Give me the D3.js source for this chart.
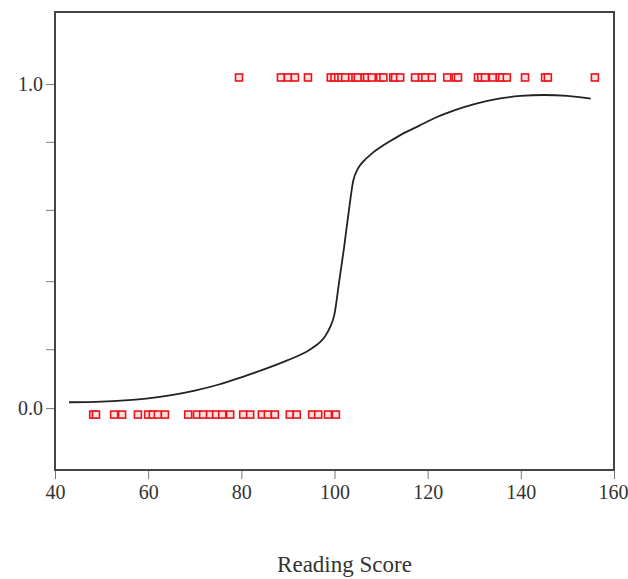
<!DOCTYPE html>
<html>
<head>
<meta charset="utf-8">
<script src="https://cdn.jsdelivr.net/npm/d3@7"></script>
<style>
  body { margin: 0; background: #fff; }
  svg text { font-family: "Liberation Serif", "DejaVu Serif", serif; fill: #333; }
</style>
</head>
<body>
<svg id="chart"></svg>
<script>
// observed outcomes (reading score) for the two groups
const scoresPass = [79.5, 88.5, 90.0, 91.5, 94.3, 99.2, 100.0, 100.8, 101.5, 102.3, 103.8, 104.5,
  105.0, 106.5, 107.0, 108.0, 109.8, 110.5, 112.6, 113.0, 114.1, 117.3, 118.8, 119.5, 120.9,
  124.2, 126.0, 126.5, 130.8, 131.5, 132.3, 134.0, 135.5, 136.0, 137.0, 140.9, 145.2, 145.8, 155.9];
const scoresFail = [48.2, 48.8, 52.7, 54.4, 57.8, 60.0, 61.0, 62.1, 63.6, 68.6, 70.5, 71.8,
  73.3, 74.6, 75.9, 77.6, 80.4, 81.9, 84.4, 85.7, 87.2, 90.4, 91.9, 95.2, 96.5, 98.6, 100.3];

// fitted curve
const curveX = [43, 50, 55, 60, 65, 70, 75, 80, 85, 90, 92, 94, 96, 97, 98, 99, 100, 101, 102,
  103, 104, 105, 106, 108, 110, 112, 115, 118, 122, 126, 130, 135, 140, 145, 150, 155];
const curveY = [0.018, 0.02, 0.024, 0.03, 0.04, 0.054, 0.072, 0.095, 0.12, 0.148, 0.16, 0.174,
  0.193, 0.205, 0.222, 0.248, 0.29, 0.39, 0.49, 0.6, 0.7, 0.738, 0.758, 0.785, 0.806, 0.824,
  0.849, 0.87, 0.898, 0.92, 0.938, 0.954, 0.963, 0.966, 0.963, 0.955];

const xTicks = [40, 60, 80, 100, 120, 140, 160];
const yTicks = [0, 1];
const yMinorTicks = [0.18, 0.39, 0.61, 0.82];
const pointOffset = 0.02; // points drawn slightly off the 0 / 1 lines

const width = 628, height = 579;
const margin = { top: 12, right: 14, bottom: 109, left: 55 };
const innerWidth = width - margin.left - margin.right;
const innerHeight = height - margin.top - margin.bottom;
const fontFamily = '"Liberation Serif", "DejaVu Serif", serif';

const svg = d3.select("#chart").attr("width", width).attr("height", height);
const g = svg.append("g").attr("transform", `translate(${margin.left},${margin.top})`);

const x = d3.scaleLinear().domain([40, 160]).range([0, innerWidth]);
const y = d3.scaleLinear().domain([-0.191, 1.222]).range([innerHeight, 0]);

// x axis
const xAxis = g.append("g")
  .attr("transform", `translate(0,${innerHeight})`)
  .call(d3.axisBottom(x).tickValues(xTicks).tickSize(9).tickPadding(6))
  .attr("font-family", fontFamily)
  .attr("font-size", 20);
xAxis.select(".domain").remove();
xAxis.selectAll("line").attr("stroke", "#777");
xAxis.selectAll("text").attr("fill", "#333");
// last label sits against the right edge
xAxis.selectAll("text").filter(d => d === 160).attr("text-anchor", "end").attr("dx", 14);

// y axis
const yAxis = g.append("g")
  .call(d3.axisLeft(y).tickValues(yTicks).tickFormat(d3.format(".1f")).tickSize(9).tickPadding(3))
  .attr("font-family", fontFamily)
  .attr("font-size", 20);
yAxis.select(".domain").remove();
yAxis.selectAll("line").attr("stroke", "#777");
yAxis.selectAll("text").attr("fill", "#333");

g.append("g")
  .selectAll("line")
  .data(yMinorTicks)
  .enter()
  .append("line")
  .attr("x1", -9)
  .attr("x2", 0)
  .attr("y1", d => y(d))
  .attr("y2", d => y(d))
  .attr("stroke", "#777");

// frame
g.append("rect")
  .attr("width", innerWidth)
  .attr("height", innerHeight)
  .attr("fill", "none")
  .attr("stroke", "#444")
  .attr("stroke-width", 2);

// fitted line
const line = d3.line()
  .x(d => x(d))
  .y((d, i) => y(curveY[i]))
  .curve(d3.curveMonotoneX);

g.append("path")
  .datum(curveX)
  .attr("fill", "none")
  .attr("stroke", "#222")
  .attr("stroke-width", 1.8)
  .attr("d", line);

// observed points
const points = scoresPass.map(s => ({ score: s, value: 1 + pointOffset }))
  .concat(scoresFail.map(s => ({ score: s, value: 0 - pointOffset })));

g.selectAll(".pt")
  .data(points)
  .enter()
  .append("rect")
  .attr("class", "pt")
  .attr("x", d => x(d.score) - 3.5)
  .attr("y", d => y(d.value) - 3.5)
  .attr("width", 7)
  .attr("height", 7)
  .attr("fill", "#fbe0e0")
  .attr("stroke", "#e8141c")
  .attr("stroke-width", 1.6);

// axis title
svg.append("text")
  .attr("x", margin.left + innerWidth / 2 + 10)
  .attr("y", 572)
  .attr("text-anchor", "middle")
  .attr("font-family", fontFamily)
  .attr("font-size", 23)
  .attr("fill", "#333")
  .text("Reading Score");
</script>
</body>
</html>
